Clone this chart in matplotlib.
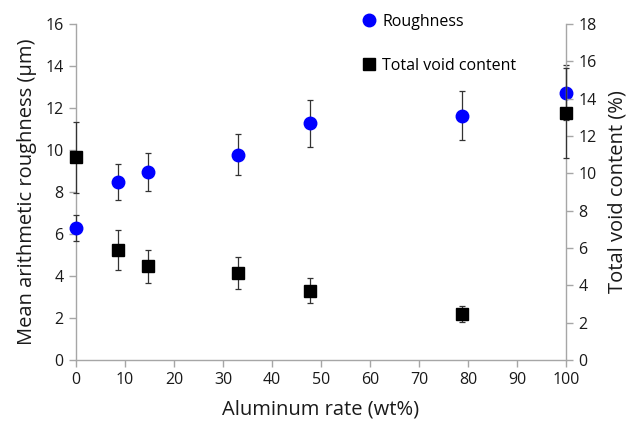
import matplotlib
matplotlib.use("Agg")
import matplotlib.pyplot as plt
from matplotlib.lines import Line2D

plt.rcParams['font.family'] = ['Open Sans', 'DejaVu Sans']

al_rate = [0, 8.5, 14.8, 33.0, 47.8, 78.7, 100]
roughness = [6.3, 8.48, 8.95, 9.78, 11.27, 11.64, 12.73]
roughness_err = [0.62, 0.85, 0.9, 0.98, 1.13, 1.15, 1.3]
void = [10.87, 5.89, 5.02, 4.66, 3.71, 2.46, 13.23]
void_err = [1.9, 1.05, 0.88, 0.85, 0.66, 0.44, 2.4]

xticks = list(range(0, 101, 10))
yticks_left = list(range(0, 17, 2))
yticks_right = list(range(0, 19, 2))

gray = '#a6a6a6'
txt = '#1a1a1a'
fig = plt.figure(figsize=(6.33, 4.23), dpi=100)
ax = fig.add_axes([0.12, 0.149, 0.774, 0.794])
ax2 = ax.twinx()

ax.errorbar(al_rate, roughness, yerr=roughness_err, fmt='o', color='#0000ff',
            markersize=9, ecolor='#333333', elinewidth=0.9, capsize=2.5,
            capthick=0.9, clip_on=False, zorder=3)
ax2.errorbar(al_rate, void, yerr=void_err, fmt='s', color='black',
             markersize=9, ecolor='#333333', elinewidth=0.9, capsize=2.5,
             capthick=0.9, clip_on=False, zorder=3)

ax.set_xlim(0, 100)
ax.set_ylim(0, 16)
ax2.set_ylim(0, 18)
ax.set_xticks(xticks)
ax.set_yticks(yticks_left)
ax2.set_yticks(yticks_right)

for a in (ax, ax2):
    a.spines['top'].set_visible(False)
    for s in ('left', 'right', 'bottom'):
        a.spines[s].set_color(gray)
        a.spines[s].set_linewidth(1.0)
    a.tick_params(axis='both', colors=gray, labelcolor=txt, labelsize=11.5,
                  length=5, width=1.0, direction='out', pad=4)
ax.spines['right'].set_visible(False)
ax2.spines['left'].set_visible(False)
ax2.spines['bottom'].set_visible(False)

ax.set_xlabel('Aluminum rate (wt%)', fontsize=14.5, color=txt, labelpad=8)
ax.set_ylabel('Mean arithmetic roughness (µm)', fontsize=14.5, color=txt, labelpad=6)
ax2.set_ylabel('Total void content (%)', fontsize=14.5, color=txt, labelpad=8)

handles = [Line2D([], [], marker='o', color='#0000ff', linestyle='none', markersize=9),
           Line2D([], [], marker='s', color='black', linestyle='none', markersize=8)]
ax2.legend(handles=handles, labels=['Roughness', 'Total void content'],
           loc='upper left', bbox_to_anchor=(0.568, 1.05),
           frameon=False, fontsize=11.5, labelspacing=1.75, handletextpad=0.35,
           handlelength=1.0, borderaxespad=0)

fig.savefig('out.png', dpi=100)
